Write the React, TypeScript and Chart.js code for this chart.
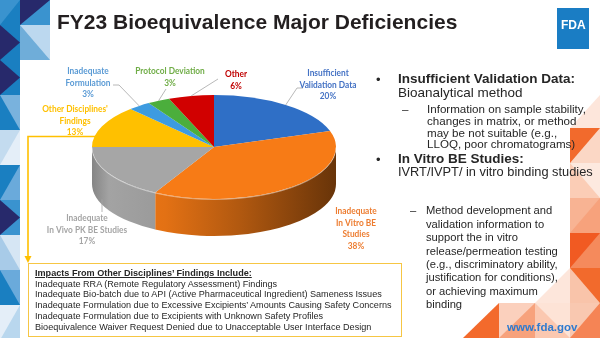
import React, { useEffect, useRef } from "react";
import { Chart, registerables } from "chart.js";
Chart.register(...registerables);

// ---------- data ----------
const categories = [
  "Insufficient Validation Data",
  "Inadequate In Vitro BE Studies",
  "Inadequate In Vivo PK BE Studies",
  "Other Disciplines' Findings",
  "Inadequate Formulation",
  "Protocol Deviation",
  "Other",
];
const shares = [20, 38, 17, 13, 3, 3, 6];
const labelLines = [
  ["Insufficient", "Validation Data"],
  ["Inadequate", "In Vitro BE", "Studies"],
  ["Inadequate", "In Vivo PK BE Studies"],
  ["Other Disciplines'", "Findings"],
  ["Inadequate", "Formulation"],
  ["Protocol Deviation"],
  ["Other"],
];
const impactsTitle = "Impacts From Other Disciplines\u2019 Findings Include:";
const impacts = [
  "Inadequate RRA (Remote Regulatory Assessment) Findings",
  "Inadequate Bio-batch due to API (Active Pharmaceutical Ingredient) Sameness Issues",
  "Inadequate Formulation due to Excessive Excipients\u2019 Amounts Causing Safety Concerns",
  "Inadequate Formulation due to Excipients with Unknown Safety Profiles",
  "Bioequivalence Waiver Request Denied due to Unacceptable User Interface Design",
];
const sub1 = [
  "Information on sample stability,",
  "changes in matrix, or method",
  "may be not suitable (e.g.,",
  "LLOQ, poor chromatograms)",
];
const sub2 = [
  "Method development and",
  "validation information to",
  "support the in vitro",
  "release/permeation testing",
  "(e.g., discriminatory ability,",
  "justification for conditions),",
  "or achieving maximum",
  "binding",
];

// ---------- styles / layout ----------
const sliceColors = ["#2f6fc6", "#f77b16", "#a6a6a6", "#ffc000", "#3d9be0", "#4bae3c", "#d10000"];
const labelColors = ["#4472c4", "#ed7d31", "#a5a5a5", "#ffc000", "#5b9bd5", "#70ad47", "#c00000"];
const W = 600, H = 338;
const PIE = { cx: 214, cy: 147, r: 122, tilt: 0.426, depth: 37 };
const LABEL_POS: number[][] = [[328, 73], [356, 211], [87, 218], [75, 109], [88, 71], [170, 71], [236, 74]];
const LEADER_FROM: (number[][] | null)[] = [
  [[303, 88], [297, 88]],
  null,
  [[102, 212]],
  null,
  [[113, 85], [119, 85]],
  [[166, 89]],
  [[218, 79]],
];
const FONT = '"Liberation Sans", Arial, sans-serif';

function rgbOf(hex: string) {
  const n = parseInt(hex.slice(1), 16);
  return [(n >> 16) & 255, (n >> 8) & 255, n & 255];
}
function shade(c: number[], m: number) {
  return `rgb(${c.map((v) => Math.max(0, Math.min(255, Math.round(v * m)))).join(",")})`;
}

const pie3d = {
  id: "pie3d",
  beforeDatasetsDraw(chart: any) {
    const ctx: CanvasRenderingContext2D = chart.ctx;
    const arcs = chart.getDatasetMeta(0).data as any[];
    const { x: cx, y: cy, outerRadius: R } = arcs[0];
    const k = PIE.tilt, d = PIE.depth;
    arcs.forEach((arc, i) => {
      const a0 = Math.max(arc.startAngle, 0);
      const a1 = Math.min(arc.endAngle, Math.PI);
      if (a1 <= a0) return;
      const c = rgbOf(sliceColors[i]);
      const g = ctx.createLinearGradient(cx - R, 0, cx + R, 0);
      g.addColorStop(0, shade(c, 0.8));
      g.addColorStop(0.07, shade(c, 0.98));
      g.addColorStop(0.3, shade(c, 0.92));
      g.addColorStop(0.6, shade(c, 0.72));
      g.addColorStop(1, shade(c, 0.42));
      ctx.beginPath();
      ctx.ellipse(cx, cy, R, R * k, 0, a0, a1, false);
      ctx.ellipse(cx, cy + d, R, R * k, 0, a1, a0, true);
      ctx.closePath();
      ctx.fillStyle = g;
      ctx.fill();
    });
    ctx.save();
    ctx.translate(0, cy);
    ctx.scale(1, k);
    ctx.translate(0, -cy);
  },
  afterDatasetsDraw(chart: any) {
    const ctx: CanvasRenderingContext2D = chart.ctx;
    ctx.restore();
    const arcs = chart.getDatasetMeta(0).data as any[];
    const { x: cx, y: cy, outerRadius: R } = arcs[0];
    const k = PIE.tilt, d = PIE.depth;
    const rim = (a: number) => [cx + R * Math.cos(a), cy + k * R * Math.sin(a)];

    // rim highlight
    ctx.beginPath();
    ctx.ellipse(cx, cy + 0.5, R, R * k, 0, 0, Math.PI, false);
    ctx.strokeStyle = "rgba(255,255,255,0.45)";
    ctx.lineWidth = 1;
    ctx.stroke();

    // leaders
    ctx.strokeStyle = "#a6a6a6";
    ctx.lineWidth = 0.8;
    arcs.forEach((arc, i) => {
      const pts = LEADER_FROM[i];
      if (!pts) return;
      const mid = (arc.startAngle + arc.endAngle) / 2;
      let [ex, ey] = rim(mid);
      if (Math.sin(mid) > 0.3) { ey += d * 0.7; ex = pts[0][0]; }
      ctx.beginPath();
      ctx.moveTo(pts[0][0], pts[0][1]);
      for (let j = 1; j < pts.length; j++) ctx.lineTo(pts[j][0], pts[j][1]);
      ctx.lineTo(ex, ey);
      ctx.stroke();
    });

    // yellow callout from "Other Disciplines' Findings"
    const y3 = arcs[3];
    const [px, py] = rim(y3.startAngle + 0.25 * (y3.endAngle - y3.startAngle));
    ctx.strokeStyle = "#ffc000";
    ctx.lineWidth = 1.6;
    ctx.beginPath();
    ctx.moveTo(px + 6, py);
    ctx.lineTo(28, py);
    ctx.lineTo(28, 257);
    ctx.stroke();
    ctx.fillStyle = "#ffc000";
    ctx.beginPath();
    ctx.moveTo(24.5, 256);
    ctx.lineTo(31.5, 256);
    ctx.lineTo(28, 263);
    ctx.closePath();
    ctx.fill();

    // labels
    ctx.textAlign = "center";
    ctx.textBaseline = "middle";
    ctx.font = 'bold 9.8px Lato, "Liberation Sans", sans-serif';
    labelLines.forEach((lines, i) => {
      const all = [...lines, `${shares[i]}%`];
      ctx.fillStyle = labelColors[i];
      all.forEach((t, j) => {
        ctx.save();
        ctx.translate(LABEL_POS[i][0], LABEL_POS[i][1] + j * 11.6);
        ctx.scale(0.85, 1);
        ctx.fillText(t, 0, 0);
        ctx.restore();
      });
    });
  },
};

function T(props: any) {
  const { x, y, size, bold, color = "#262626", lh, lines, style } = props;
  return (
    <div
      style={{
        position: "absolute",
        left: x,
        top: y - lh / 2,
        fontSize: size,
        fontWeight: bold ? 700 : 400,
        lineHeight: lh + "px",
        color,
        whiteSpace: "pre",
        fontFamily: FONT,
        ...style,
      }}
    >
      {lines.join("\n")}
    </div>
  );
}

type Cell = { x: number; y: number; w: number; h: number; bg: string; tri: string; o: number };
function tri(c: Cell) {
  const { x, y, w, h, o } = c;
  const p = [
    [[x, y], [x + w, y], [x, y + h]],
    [[x + w, y], [x + w, y + h], [x, y + h]],
    [[x, y], [x + w, y + h / 2], [x, y + h]],
    [[x, y], [x, y + h], [x + w, y + h]],
    [[x, y], [x + w, y], [x + w, y + h]],
  ][o];
  return p.map((q) => q.join(",")).join(" ");
}
const N = "#27296b", B = "#1a7fc1", M = "#3a93cf", L = "#79b2dd", P = "#c3dbef", VP = "#e4eef8";
const leftCells: Cell[] = [
  { x: 0, y: 0, w: 20, h: 25, bg: M, tri: B, o: 1 },
  { x: 20, y: 0, w: 30, h: 25, bg: M, tri: N, o: 0 },
  { x: 0, y: 25, w: 20, h: 35, bg: B, tri: N, o: 2 },
  { x: 20, y: 25, w: 30, h: 35, bg: "#bcd8ef", tri: "#6fadd9", o: 3 },
  { x: 0, y: 60, w: 20, h: 35, bg: B, tri: N, o: 2 },
  { x: 0, y: 95, w: 20, h: 35, bg: L, tri: B, o: 3 },
  { x: 0, y: 130, w: 20, h: 35, bg: VP, tri: P, o: 0 },
  { x: 0, y: 165, w: 20, h: 35, bg: B, tri: "#6aaadb", o: 1 },
  { x: 0, y: 200, w: 20, h: 35, bg: M, tri: N, o: 2 },
  { x: 0, y: 235, w: 20, h: 35, bg: "#d6e6f4", tri: "#a8cbe8", o: 3 },
  { x: 0, y: 270, w: 20, h: 35, bg: B, tri: "#6aaadb", o: 4 },
  { x: 0, y: 305, w: 20, h: 35, bg: VP, tri: "#b9d7ee", o: 1 },
];
const rightCells: Cell[] = [
  { x: 570, y: 95, w: 30, h: 33, bg: "#ffffff", tri: "#fde6db", o: 1 },
  { x: 570, y: 128, w: 30, h: 35, bg: "#fbd7c5", tri: "#f26a2c", o: 0 },
  { x: 570, y: 163, w: 30, h: 35, bg: "#fde9df", tri: "#fbcdb6", o: 3 },
  { x: 570, y: 198, w: 30, h: 35, bg: "#f8b393", tri: "#f7a27c", o: 1 },
  { x: 570, y: 233, w: 30, h: 35, bg: "#f58a5c", tri: "#f15a22", o: 0 },
  { x: 570, y: 268, w: 30, h: 35, bg: "#f26a2c", tri: "#f9c4aa", o: 3 },
  { x: 570, y: 303, w: 30, h: 35, bg: "#f9c8b0", tri: "#f58455", o: 1 },
  { x: 463, y: 303, w: 36, h: 35, bg: "#ffffff", tri: "#f36a2c", o: 1 },
  { x: 499, y: 303, w: 36, h: 35, bg: "#f7a27c", tri: "#fbd0bd", o: 0 },
  { x: 535, y: 303, w: 35, h: 35, bg: "#fde3d6", tri: "#fbc8b0", o: 3 },
  { x: 535, y: 268, w: 35, h: 35, bg: "#ffffff", tri: "#fde6db", o: 1 },
];

export default function App() {
  const ref = useRef<HTMLCanvasElement>(null);
  useEffect(() => {
    const chart = new Chart(ref.current as HTMLCanvasElement, {
      type: "pie",
      data: {
        labels: categories,
        datasets: [{ data: shares, backgroundColor: sliceColors, borderWidth: 0 }],
      },
      options: {
        responsive: false,
        animation: false,
        devicePixelRatio: 1,
        events: [],
        layout: {
          padding: {
            left: PIE.cx - PIE.r,
            right: W - PIE.cx - PIE.r,
            top: PIE.cy - PIE.r,
            bottom: H - PIE.cy - PIE.r,
          },
        },
        plugins: { legend: { display: false }, tooltip: { enabled: false } },
      } as any,
      plugins: [pie3d as any],
    });
    return () => chart.destroy();
  }, []);

  return (
    <div style={{ position: "fixed", left: 0, top: 0, width: W, height: H, overflow: "hidden", background: "#fff" }}>
      <svg width={W} height={H} style={{ position: "absolute", left: 0, top: 0 }}>
        {[...leftCells, ...rightCells].map((c, i) => (
          <g key={i}>
            <rect x={c.x} y={c.y} width={c.w} height={c.h} fill={c.bg} />
            <polygon points={tri(c)} fill={c.tri} />
          </g>
        ))}
        <rect x={557} y={8} width={32} height={41} fill="#1a7dc4" />
      </svg>
      <div
        style={{
          position: "absolute", left: 28, top: 263, width: 374, height: 74,
          border: "1.5px solid #f6c644", boxSizing: "border-box", background: "#fff",
        }}
      />
      <canvas ref={ref} width={W} height={H} style={{ position: "absolute", left: 0, top: 0 }} />
      <T x={57} y={21} size={21} bold lh={25} color="#231f20" lines={["FY23 Bioequivalence Major Deficiencies"]} />
      <T x={561} y={25} size={12} bold lh={14} color="#fff" lines={["FDA"]} />
      <T x={376} y={79} size={13} lh={15} lines={["\u2022"]} />
      <T x={398} y={78} size={13.5} bold lh={15} lines={["Insufficient Validation Data:"]} />
      <T x={398} y={92} size={13.5} lh={15} lines={["Bioanalytical method"]} />
      <T x={402} y={109} size={11.6} lh={11.8} lines={["\u2013"]} />
      <T x={427} y={109} size={11.6} lh={11.8} lines={sub1} />
      <T x={376} y={159} size={13} lh={15} lines={["\u2022"]} />
      <T x={398} y={158} size={13.5} bold lh={15} lines={["In Vitro BE Studies:"]} />
      <T x={398} y={172} size={12.8} lh={14} lines={["IVRT/IVPT/ in vitro binding studies"]} />
      <T x={410} y={211} size={11.2} lh={13.4} lines={["\u2013"]} />
      <T x={426} y={211} size={11.2} lh={13.4} lines={sub2} />
      <T x={35} y={273} size={9.1} bold lh={10.8} lines={[impactsTitle]} style={{ textDecoration: "underline" }} />
      <T x={35} y={284} size={9.1} lh={10.8} lines={impacts} />
      <T x={507} y={327} size={11.5} bold lh={14} color="#2e7bcf" lines={["www.fda.gov"]} />
    </div>
  );
}
